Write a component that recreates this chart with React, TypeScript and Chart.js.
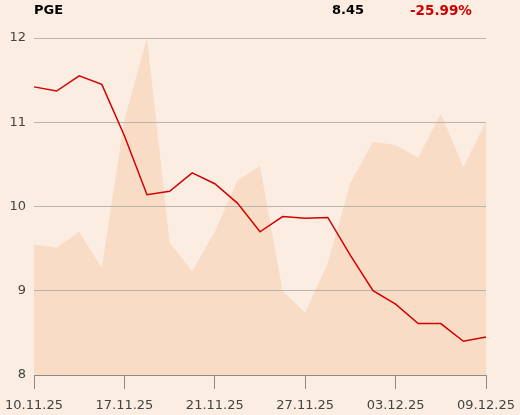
import React, { useEffect, useRef } from "react";
import { Chart, registerables } from "chart.js";

Chart.register(...registerables);

const dates = [
  "10.11.25", "12.11.25", "13.11.25", "14.11.25", "17.11.25", "18.11.25", "19.11.25",
  "20.11.25", "21.11.25", "24.11.25", "25.11.25", "26.11.25", "27.11.25", "28.11.25",
  "01.12.25", "02.12.25", "03.12.25", "04.12.25", "05.12.25", "08.12.25", "09.12.25",
];
const tickDates = ["10.11.25", "17.11.25", "21.11.25", "27.11.25", "03.12.25", "09.12.25"];
const price = [
  11.42, 11.37, 11.55, 11.45, 10.84, 10.14, 10.18, 10.4, 10.27, 10.04, 9.7,
  9.88, 9.86, 9.87, 9.42, 9.0, 8.84, 8.61, 8.61, 8.4, 8.45,
];
const volumeShape = [
  9.55, 9.51, 9.7, 9.27, 11.03, 12.0, 9.57, 9.23, 9.7, 10.31, 10.48,
  9.0, 8.74, 9.33, 10.28, 10.77, 10.73, 10.58, 11.1, 10.47, 11.01,
];
const yTicks = [8, 9, 10, 11, 12];
const title = "PGE";
const lastValue = "8.45";
const change = "-25.99%";

const BG = "#fbede1";
const FONT = "'DejaVu Sans', sans-serif";

export default function App() {
  const ref = useRef<HTMLCanvasElement | null>(null);

  useEffect(() => {
    document.body.style.margin = "0";
    document.body.style.background = BG;
    const canvas = ref.current;
    if (!canvas) return;
    const chart = new Chart(canvas, {
      type: "line",
      data: {
        labels: dates,
        datasets: [
          {
            data: price,
            borderColor: "#d40000",
            borderWidth: 1.5,
            pointRadius: 0,
            fill: false,
            tension: 0,
          },
          {
            data: volumeShape,
            borderWidth: 0,
            borderColor: "rgba(0,0,0,0)",
            backgroundColor: "#f8dcc6",
            pointRadius: 0,
            fill: "start",
            tension: 0,
          },
        ],
      },
      options: {
        animation: false,
        responsive: false,
        maintainAspectRatio: false,
        layout: { padding: { left: 0, top: 38, right: 34, bottom: 0 } },
        plugins: {
          legend: { display: false },
          tooltip: { enabled: false },
          filler: { drawTime: "beforeDraw" },
        },
        scales: {
          x: {
            type: "category",
            offset: false,
            grid: {
              drawOnChartArea: false,
              drawTicks: true,
              tickLength: 14,
              color: "#8f8a86",
              lineWidth: 1,
            },
            border: { display: true, color: "#8f8a86", width: 1 },
            ticks: {
              autoSkip: false,
              maxRotation: 0,
              padding: 9,
              color: "#444",
              font: { family: FONT, size: 13 },
              callback: function (this: any, _v: any, i: number) {
                const l = dates[i];
                return tickDates.includes(l) ? l : null;
              },
            },
            afterFit: (s: any) => {
              s.height = 40;
              s.paddingLeft = 0;
              s.paddingRight = 0;
            },
          },
          y: {
            min: 8,
            max: 12,
            afterBuildTicks: (s: any) => {
              s.ticks = yTicks.map((v) => ({ value: v }));
            },
            grid: { drawTicks: false, color: "#b9b4ae", lineWidth: 1 },
            border: { display: false },
            ticks: {
              padding: 8,
              color: "#444",
              font: { family: FONT, size: 13 },
            },
            afterFit: (s: any) => {
              s.width = 34;
            },
          },
        },
      },
    } as any);
    return () => chart.destroy();
  }, []);

  return (
    <div style={{ position: "relative", width: 520, height: 415, background: BG, fontFamily: FONT }}>
      <canvas ref={ref} width={520} height={415} style={{ display: "block" }} />
      <div style={{ position: "absolute", left: 34, top: 2, fontSize: 13, fontWeight: "bold", color: "#000" }}>
        {title}
      </div>
      <div style={{ position: "absolute", left: 332, top: 2, fontSize: 13, fontWeight: "bold", color: "#000" }}>
        {lastValue}
      </div>
      <div style={{ position: "absolute", left: 410, top: 2, fontSize: 13.5, fontWeight: "bold", color: "#cc0000" }}>
        {change}
      </div>
    </div>
  );
}
